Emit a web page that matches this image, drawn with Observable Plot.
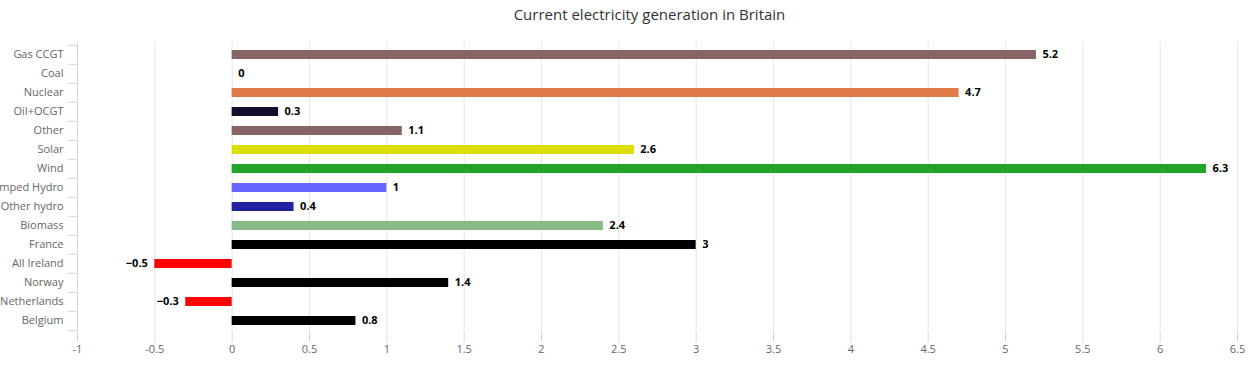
<!DOCTYPE html>
<html><head><meta charset="utf-8">
<script src="https://cdn.jsdelivr.net/npm/d3@7"></script>
<script src="https://cdn.jsdelivr.net/npm/@observablehq/plot@0.6"></script>
<style>
body{margin:0;background:#fff;font-family:"Open Sans",sans-serif;}
#title{width:1251px;height:28px;line-height:28px;text-align:center;font-size:15px;color:#333;padding-left:48px;box-sizing:border-box;white-space:nowrap}
#chart svg{display:block}
</style></head><body>
<div id="title">Current electricity generation in Britain</div>
<div id="chart"></div>
<script>
const categories = ["Gas CCGT","Coal","Nuclear","Oil+OCGT","Other","Solar","Wind","Pumped Hydro","Other hydro","Biomass","France","All Ireland","Norway","Netherlands","Belgium"];
const values = [5.2, 0, 4.7, 0.3, 1.1, 2.6, 6.3, 1, 0.4, 2.4, 3, -0.5, 1.4, -0.3, 0.8];
const colors = ["#886464","#000000","#e07a48","#10102e","#886464","#dddd00","#22a428","#6666ff","#2222a0","#88bb88","#000000","#ff0000","#000000","#ff0000","#000000"];
const xTicks = [-1,-0.5,0,0.5,1,1.5,2,2.5,3,3.5,4,4.5,5,5.5,6,6.5];

const W = 1251, H = 343, mt = 13.8, mb = 38.8, ml = 77, mr = 14;
const step = (H - mt - mb) / categories.length;
const data = categories.map((c, i) => ({cat: c, value: values[i], color: colors[i]}));
const fmtAxis = d => String(d);
const fmtVal = d => String(d).replace("-", "\u2212");

const chart = Plot.plot({
  width: W, height: H,
  marginTop: mt, marginBottom: mb, marginLeft: ml, marginRight: mr,
  style: {fontFamily: "'Open Sans', sans-serif", fontSize: "11px", color: "#666", background: "#fff", overflow: "visible"},
  x: {domain: [-1, 6.5], label: null},
  y: {domain: categories, paddingInner: 0.54, paddingOuter: 0.27, label: null},
  color: {type: "identity"},
  marks: [
    Plot.gridX(xTicks.filter(d => d !== -1), {stroke: "#e6e6e6", strokeOpacity: 1}),
    Plot.ruleX([-1], {stroke: "#ccd6eb"}),
    Plot.axisX({ticks: xTicks, tickSize: 10, tickPadding: 2, stroke: "#ccd6eb", strokeOpacity: 1, fill: "#666", tickFormat: fmtAxis, label: null}),
    Plot.axisY({tickSize: 0, tickPadding: 14, dy: -1, fill: "#666", label: null}),
    Plot.ruleY(categories, {y: d => d, x1: -1.06, x2: -1, dy: -step / 2, stroke: "#ccd6eb"}),
    Plot.ruleY([categories[categories.length - 1]], {y: d => d, x1: -1.06, x2: -1, dy: step / 2, stroke: "#ccd6eb"}),
    Plot.barX(data, {x: "value", y: "cat", fill: "color"}),
    Plot.text(data.filter(d => d.value >= 0), {x: "value", y: "cat", text: d => fmtVal(d.value), dx: 6, dy: -1, textAnchor: "start", fill: "#000", fontWeight: "bold", fontSize: 11}),
    Plot.text(data.filter(d => d.value < 0), {x: "value", y: "cat", text: d => fmtVal(d.value), dx: -7, dy: -1, textAnchor: "end", fill: "#000", fontWeight: "bold", fontSize: 11})
  ]
});
document.getElementById("chart").appendChild(chart);
</script>
</body></html>
